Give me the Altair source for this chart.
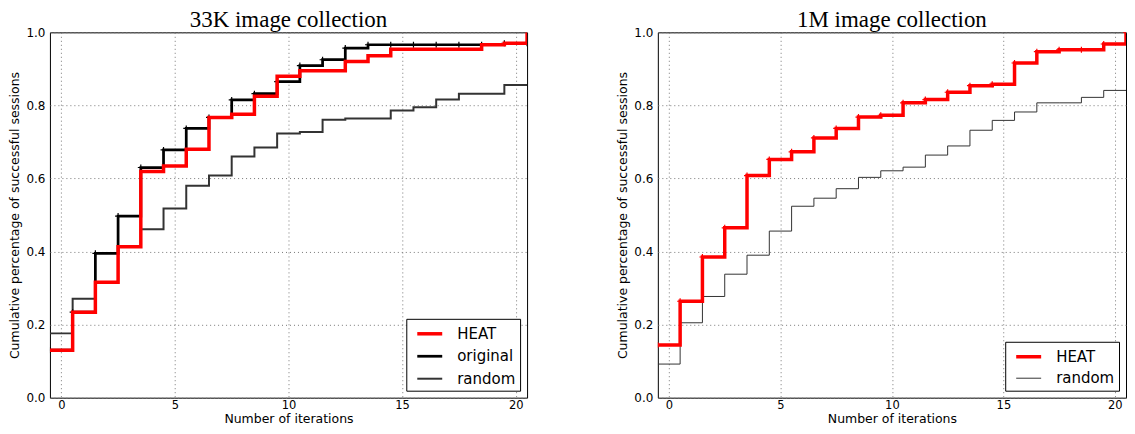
import altair as alt
import pandas as pd

# step boundaries (iterations, step-after), values hold until the next boundary
steps = [-0.5, 0.5, 1.5, 2.5, 3.5, 4.5, 5.5, 6.5, 7.5, 8.5, 9.5, 10.5,
         11.5, 12.5, 13.5, 14.5, 15.5, 16.5, 17.5, 18.5, 19.5, 20.5]

left_heat = [0.130, 0.234, 0.316, 0.413, 0.619, 0.634, 0.680, 0.767, 0.776, 0.825, 0.880,
             0.895, 0.895, 0.920, 0.936, 0.954, 0.954, 0.954, 0.954, 0.966, 0.970, 1.000]
left_original = [0.130, 0.234, 0.395, 0.497, 0.630, 0.678, 0.737, 0.767, 0.815, 0.832, 0.865,
                 0.909, 0.925, 0.957, 0.966, 0.966, 0.966, 0.966, 0.966, 0.966, 0.970, 0.970]
left_random = [0.176, 0.271, 0.316, 0.413, 0.461, 0.518, 0.580, 0.608, 0.660, 0.685, 0.723,
               0.727, 0.761, 0.764, 0.764, 0.786, 0.795, 0.816, 0.832, 0.832, 0.856, 0.856]

right_heat = [0.144, 0.264, 0.385, 0.465, 0.608, 0.652, 0.673, 0.711, 0.737, 0.768, 0.773,
              0.807, 0.816, 0.836, 0.854, 0.858, 0.916, 0.947, 0.952, 0.952, 0.968, 1.000]
right_random = [0.092, 0.205, 0.277, 0.338, 0.390, 0.456, 0.524, 0.546, 0.572, 0.603, 0.621,
                0.631, 0.664, 0.689, 0.732, 0.759, 0.782, 0.807, 0.807, 0.822, 0.841, 0.841]

x_ticks = [0, 5, 10, 15, 20]
y_ticks = [0.0, 0.2, 0.4, 0.6, 0.8, 1.0]

series_colors = {"HEAT": "#ff0000", "original": "#000000", "random": "#333333"}
series_widths = {"HEAT": 3.5, "original": 2, "random": 1}

PLUS = "M-1,0L1,0M0,-1L0,1"
LEGEND_LINE = "M-0.444,0H2.333"


def make_df(series):
    rows = []
    for name, vals in series.items():
        for s, v in zip(steps, vals):
            rows.append({"iter": s, "value": v, "series": name})
    return pd.DataFrame(rows)


def panel(series, markers, title, width):
    df = make_df(series)
    names = list(series.keys())
    x = alt.X("iter:Q",
              scale=alt.Scale(domain=[-0.5, 20.5], nice=False, zero=False),
              axis=alt.Axis(values=x_ticks, format="d", title="Number of iterations"))
    y = alt.Y("value:Q",
              scale=alt.Scale(domain=[0, 1], nice=False),
              axis=alt.Axis(values=y_ticks, format=".1f",
                            title="Cumulative percentage of successful sessions"))
    color = alt.Color("series:N",
                      scale=alt.Scale(domain=names, range=[series_colors[n] for n in names]),
                      legend=alt.Legend(title=None))
    sw = alt.StrokeWidth("series:N",
                         scale=alt.Scale(domain=names, range=[series_widths[n] for n in names]),
                         legend=alt.Legend(title=None))
    layers = []
    for name in reversed(names):
        base = alt.Chart(df).transform_filter(alt.datum.series == name)
        layers.append(base.mark_line(interpolate="step-after", clip=True)
                      .encode(x=x, y=y, color=color, strokeWidth=sw))
        if name in markers:
            layers.append(base.mark_point(shape=PLUS, size=36, strokeWidth=1.2,
                                          color=series_colors[name], clip=True, opacity=1)
                          .encode(x=x, y=y))
    return alt.layer(*layers).properties(
        width=width, height=366,
        title=alt.TitleParams(title, font="Liberation Serif", fontSize=23,
                              fontWeight="normal", color="black", offset=-5.5,
                              anchor="middle", frame="group"),
    )


left = panel({"HEAT": left_heat, "original": left_original, "random": left_random},
             markers=["original"], title="33K image collection", width=478)
right = panel({"HEAT": right_heat, "random": right_random},
              markers=["HEAT"], title="1M image collection", width=469)

chart = (
    alt.hconcat(left, right, spacing=88)
    .resolve_scale(color="independent", strokeWidth="independent")
    .resolve_legend(color="independent", strokeWidth="independent")
    .properties(padding=0)
    .configure_view(stroke="black", strokeWidth=1)
    .configure_axis(
        labelFont="DejaVu Sans", labelFontSize=12, labelColor="black",
        titleFont="DejaVu Sans", titleFontSize=12.5, titleFontWeight="normal", titleColor="black",
        ticks=False, domain=False,
        grid=True, gridColor="#777777", gridDash=[1, 3], gridWidth=1, gridOpacity=1,
    )
    .configure_axisX(labelPadding=2, titlePadding=1, labelFontSize=11.5)
    .configure_axisY(labelPadding=5, titlePadding=4)
    .configure_legend(
        orient="bottom-right", offset=7, fillColor="white", strokeColor="black",
        padding=4, labelFont="DejaVu Sans", labelFontSize=15, labelColor="black",
        symbolType=LEGEND_LINE, symbolSize=324, rowPadding=4, labelOffset=25,
        cornerRadius=0,
    )
)

chart.save("out.html", embed_options={"renderer": "svg", "actions": False})
